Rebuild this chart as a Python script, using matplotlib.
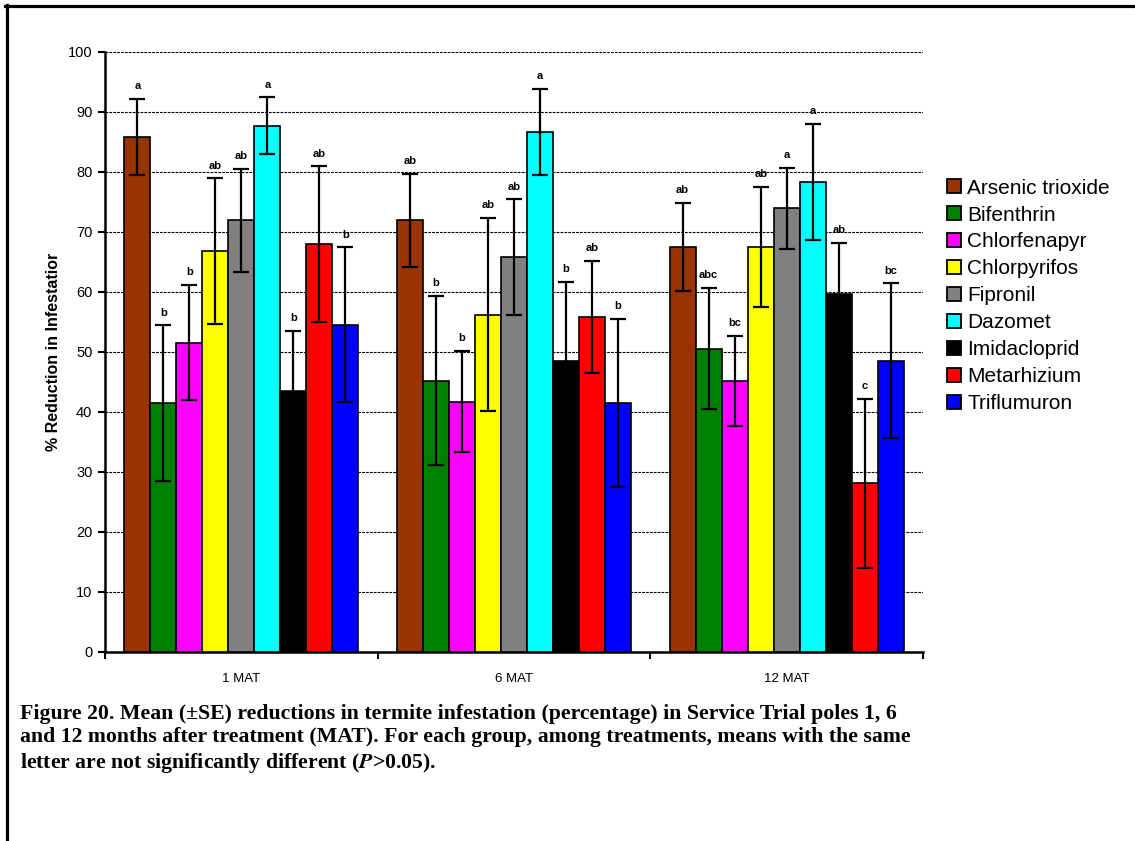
import matplotlib
matplotlib.use('Agg')
import matplotlib.pyplot as plt
from matplotlib.lines import Line2D
import numpy as np

plt.rcParams['font.family'] = ['Liberation Sans', 'DejaVu Sans']
plt.rcParams['mathtext.fontset'] = 'stix'

# data
groups = ['1 MAT', '6 MAT', '12 MAT']
treatments = ['Arsenic trioxide', 'Bifenthrin', 'Chlorfenapyr', 'Chlorpyrifos', 'Fipronil',
              'Dazomet', 'Imidacloprid', 'Metarhizium', 'Triflumuron']
colors = ['#993300', '#008000', '#FF00FF', '#FFFF00', '#808080',
          '#00FFFF', '#000000', '#FF0000', '#0000FF']

mean_1 = [85.8, 41.4, 51.5, 66.8, 71.9, 87.7, 43.4, 67.9, 54.5]
se_1 = [6.4, 13.0, 9.6, 12.1, 8.6, 4.7, 10.1, 13.0, 12.9]
let_1 = ['a', 'b', 'b', 'ab', 'ab', 'a', 'b', 'ab', 'b']

mean_6 = [71.9, 45.2, 41.7, 56.2, 65.8, 86.6, 48.5, 55.8, 41.5]
se_6 = [7.7, 14.1, 8.4, 16.1, 9.6, 7.2, 13.1, 9.4, 14.0]
let_6 = ['ab', 'b', 'b', 'ab', 'ab', 'a', 'b', 'ab', 'b']

mean_12 = [67.5, 50.5, 45.2, 67.5, 73.9, 78.3, 59.6, 28.1, 48.5]
se_12 = [7.3, 10.1, 7.5, 10.0, 6.7, 9.7, 8.6, 14.1, 12.9]
let_12 = ['ab', 'abc', 'bc', 'ab', 'a', 'a', 'ab', 'c', 'bc']

means = [mean_1, mean_6, mean_12]
ses = [se_1, se_6, se_12]
letters = [let_1, let_6, let_12]

fig = plt.figure(figsize=(11.35, 8.41), dpi=100)
ax = fig.add_axes([0.0925, 0.2251, 0.7207, 0.7134])

w = 0.0954
for g in range(3):
    for i in range(9):
        x = g + 0.5 + (i - 4) * w
        ax.bar(x, means[g][i], width=w, color=colors[i], edgecolor='black', linewidth=1.2, zorder=3)
        ax.errorbar(x, means[g][i], yerr=ses[g][i], color='black', elinewidth=1.6,
                    capsize=5.5, capthick=1.6, zorder=4)
        ax.text(x, means[g][i] + ses[g][i] + 1.3, letters[g][i], ha='center', va='bottom',
                fontsize=8, fontweight='bold', zorder=5)

ax.set_xlim(0, 3)
ax.set_ylim(0, 100)
ax.set_yticks(np.arange(0, 101, 10))
ax.yaxis.grid(True, color='black', linestyle=(0, (2.5, 1)), linewidth=0.8, zorder=0)
ax.set_axisbelow(True)

ax.set_xticks([0, 1, 2, 3])
ax.set_xticklabels([])
ax.set_xticks([0.5, 1.5, 2.5], minor=True)
ax.set_xticklabels(groups, minor=True, fontsize=9.5)
ax.tick_params(axis='x', which='minor', length=0, pad=15)
ax.tick_params(axis='x', which='major', direction='out', length=5, width=1.5)
ax.tick_params(axis='y', direction='out', length=5, width=1.5, labelsize=10.5, pad=4)

for s in ['top', 'right']:
    ax.spines[s].set_visible(False)
ax.spines['left'].set_linewidth(1.8)
ax.spines['bottom'].set_linewidth(1.8)

ax.set_ylabel('% Reduction in Infestatior', fontsize=11.5, fontweight='bold', labelpad=5)

handles = [Line2D([], [], marker='s', linestyle='none', markersize=10, markerfacecolor=c,
                  markeredgecolor='black', markeredgewidth=1.3) for c in colors]
fig.legend(handles, treatments, loc='upper left', bbox_to_anchor=(0.823, 0.800),
           frameon=False, fontsize=15, labelspacing=0.38, handletextpad=0.2,
           handlelength=0.9, borderpad=0)

caption = ("Figure 20. Mean (\u00b1SE) reductions in termite infestation (percentage) in Service Trial poles 1, 6\n"
           "and 12 months after treatment (MAT). For each group, among treatments, means with the same\n"
           "letter are not significantly different ($\\mathbfit{P}$>0.05).")
fig.text(0.0176, 1 - 704 / 841, caption, ha='left', va='top', fontsize=15.7, fontweight='bold',
         family='Liberation Serif', linespacing=1.21)

# page frame
fig.add_artist(Line2D([6.5 / 1135, 6.5 / 1135], [0, 1 - 5 / 841], color='black', linewidth=2.3,
                      transform=fig.transFigure))
fig.add_artist(Line2D([5 / 1135, 1], [1 - 6 / 841, 1 - 6 / 841], color='black', linewidth=2.3,
                      transform=fig.transFigure))

plt.savefig('out.png', dpi=100)
